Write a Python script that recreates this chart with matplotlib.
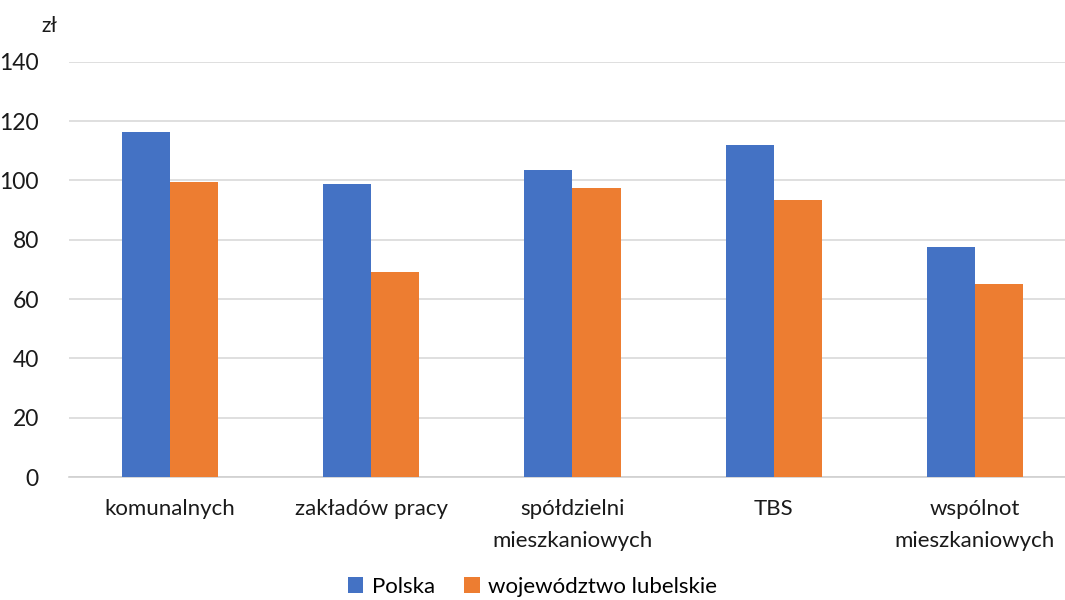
import matplotlib.pyplot as plt
import numpy as np

# Data
categories = ["komunalnych", "zakładów pracy", "spółdzielni\nmieszkaniowych", "TBS", "wspólnot\nmieszkaniowych"]
polska = [116.4, 98.9, 103.6, 111.8, 77.6]
lubelskie = [99.4, 69.0, 97.4, 93.3, 65.0]
series_names = ["Polska", "województwo lubelskie"]

plt.rcParams['font.family'] = ['Lato', 'DejaVu Sans']

fig = plt.figure(figsize=(10.65, 6.0), dpi=100)
ax = fig.add_axes([0.0652, 0.205, 0.9446, 0.692])

x = np.arange(len(categories))
w = 0.239
ax.bar(x - w / 2, polska, w, color="#4472c4", label=series_names[0], zorder=3)
ax.bar(x + w / 2, lubelskie, w, color="#ed7d31", label=series_names[1], zorder=3)

ax.set_xlim(-0.5, len(categories) - 0.5)
ax.set_ylim(0, 140)
ax.set_yticks(range(0, 141, 20))
ax.set_xticks(x)
ax.set_xticklabels(categories, fontsize=16, color="#1a1a1a", linespacing=1.75)
ax.tick_params(axis="y", labelsize=16.5, colors="#1a1a1a", length=0, pad=22)
ax.tick_params(axis="x", length=0, pad=16)

ax.grid(axis="y", color="#d9d9d9", linewidth=1.2, zorder=0)
for s in ["top", "right", "left"]:
    ax.spines[s].set_visible(False)
ax.spines["bottom"].set_color("#d0d0d0")
ax.spines["bottom"].set_linewidth(1.2)

fig.text(0.039, 0.957, "zł", fontsize=15, color="#1a1a1a", ha="left", va="center")

fig.legend(loc="lower center", bbox_to_anchor=(0.5, -0.028), ncol=2, frameon=False,
           fontsize=16, handlelength=0.7, handleheight=0.7, columnspacing=1.3,
           handletextpad=0.4)

fig.savefig("out.png", dpi=100)
